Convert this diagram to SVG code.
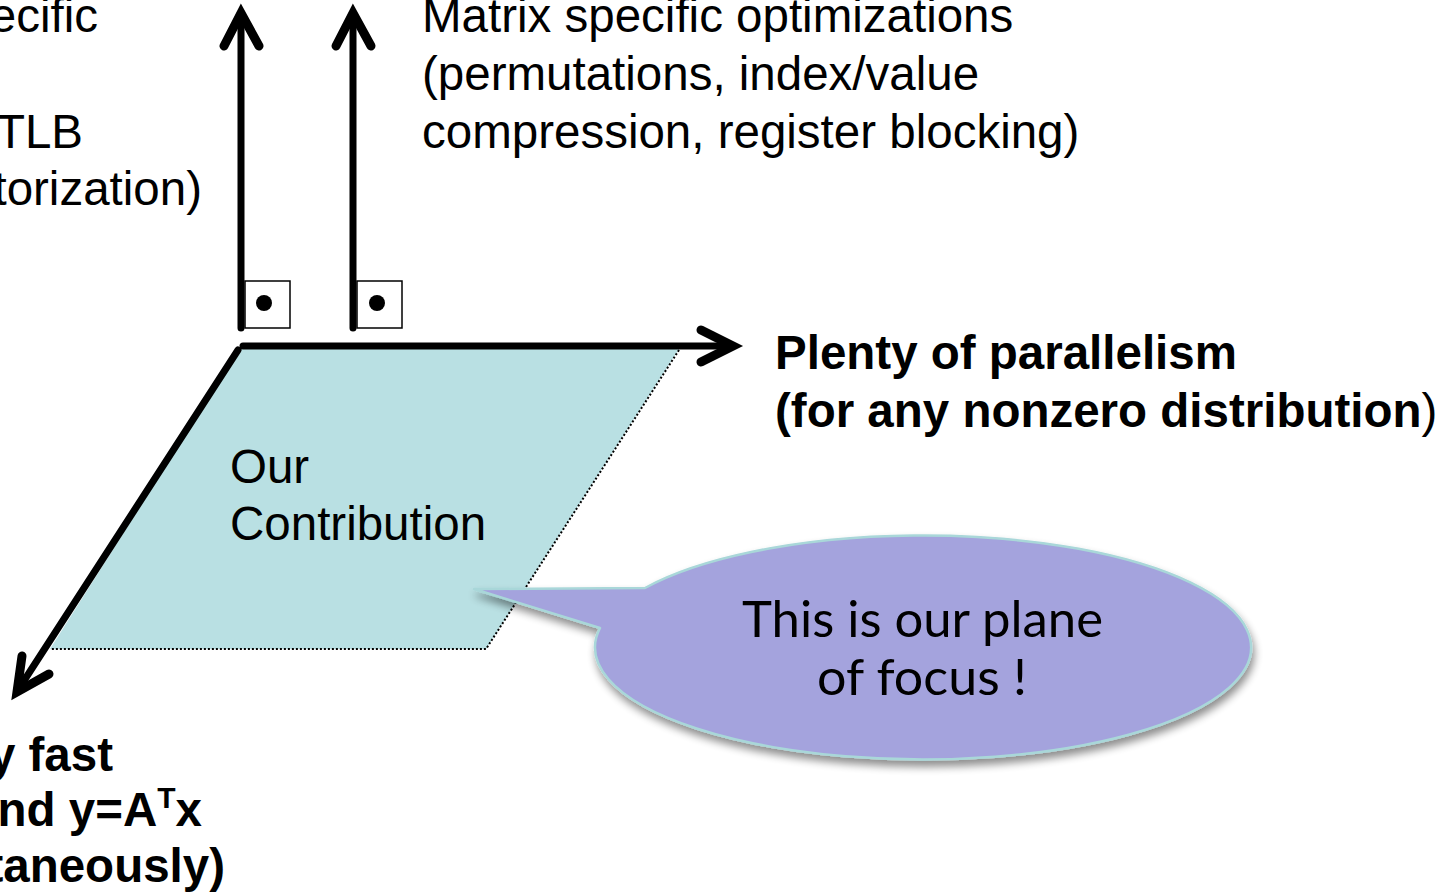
<svg xmlns="http://www.w3.org/2000/svg" width="1449" height="894" viewBox="0 0 1449 894">
<defs>
<style>
.t{font-family:"Liberation Sans",Arial,sans-serif;font-size:47.5px;fill:#000}
.b{font-weight:bold}
.ax{stroke:#000;stroke-width:7;fill:none;stroke-linecap:round}
.hd{stroke:#000;stroke-width:9;fill:none;stroke-linecap:round;stroke-linejoin:miter}
.box{fill:#fff;stroke:#000;stroke-width:1.5}
.dot{stroke:#000;stroke-width:2;stroke-dasharray:2 2;fill:none}
.c{font-family:"Lato","DejaVu Sans",sans-serif;font-size:50px;fill:#000}
</style>
<filter id="sh" x="-10%" y="-10%" width="120%" height="130%">
<feGaussianBlur in="SourceAlpha" stdDeviation="4"/>
<feOffset dx="2" dy="6" result="o"/>
<feComponentTransfer><feFuncA type="linear" slope="0.45"/></feComponentTransfer>
<feMerge><feMergeNode/><feMergeNode in="SourceGraphic"/></feMerge>
</filter>
</defs>
<rect width="1449" height="894" fill="#fff"/>

<g id="plane">
<polygon points="240,349 679,349 486,649 50,649" fill="#b9e0e3"/>
<polyline class="dot" points="679,350 486,649 50,649"/>
<text class="t" x="230" y="483">Our</text>
<text class="t" x="230" y="540">Contribution</text>
</g>

<g id="connectors">
<line class="ax" x1="241" y1="328" x2="241" y2="14"/>
<polyline class="hd" points="224,46 241,13 259,46"/>
<line class="ax" x1="353" y1="328" x2="353" y2="14"/>
<polyline class="hd" points="336,46 353,13 371,46"/>
<line class="ax" x1="243" y1="346" x2="731" y2="346"/>
<polyline class="hd" points="701,330 733,346 701,362"/>
<line class="ax" x1="238" y1="350" x2="18" y2="690"/>
<polyline class="hd" points="22,656 17,692 49,674"/>
</g>

<g id="right-angle-1">
<rect class="box" x="245" y="281" width="45" height="47"/>
<circle cx="264" cy="303" r="8" fill="#000"/>
</g>
<g id="right-angle-2">
<rect class="box" x="357" y="281" width="45" height="47"/>
<circle cx="377" cy="303" r="8" fill="#000"/>
</g>

<g id="label-left-top">
<text class="t" x="98" y="32" text-anchor="end">ecific</text>
<text class="t" x="83" y="148" text-anchor="end">TLB</text>
<text class="t" x="202" y="205" text-anchor="end">torization)</text>
</g>

<g id="label-matrix">
<text class="t" x="422" y="32">Matrix specific optimizations</text>
<text class="t" x="422" y="90">(permutations, index/value</text>
<text class="t" x="422" y="148">compression, register blocking)</text>
</g>

<g id="label-parallelism">
<text class="t b" x="775" y="369">Plenty of parallelism</text>
<text class="t" x="775" y="427"><tspan class="b">(for any nonzero distribution</tspan>)</text>
</g>

<g id="label-fast">
<text class="t b" x="113" y="771" text-anchor="end">y fast</text>
<text class="t b" x="202" y="826" text-anchor="end">nd y=A<tspan font-size="30" dy="-18">T</tspan><tspan dy="18">x</tspan></text>
<text class="t b" x="225" y="882" text-anchor="end">taneously)</text>
</g>

<g id="callout">
<path filter="url(#sh)" d="M645,588 A328,112 0 1 1 600,628 L474,589 Z" fill="#a4a3dd" stroke="#a9d7d9" stroke-width="2.5" stroke-linejoin="round"/>
<text class="c" x="742" y="637" textLength="361" lengthAdjust="spacingAndGlyphs">This is our plane</text>
<text class="c" x="817" y="695" textLength="210" lengthAdjust="spacingAndGlyphs">of focus !</text>
</g>
</svg>
